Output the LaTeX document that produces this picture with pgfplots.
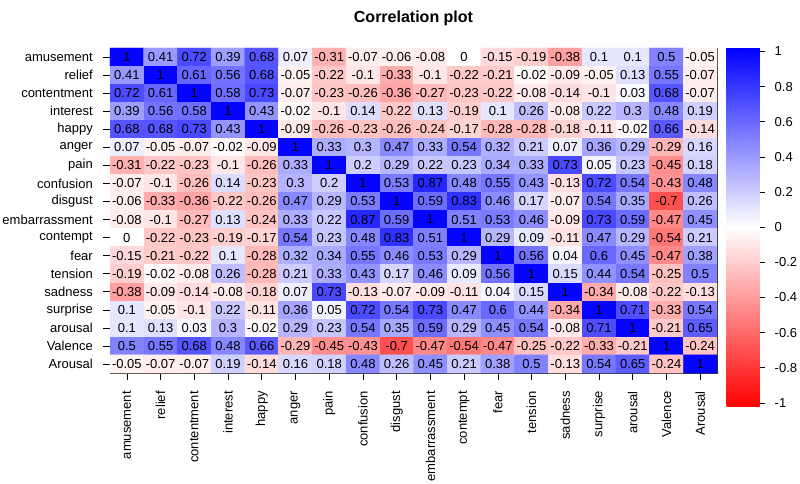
\documentclass[border=0pt]{standalone}
\usepackage{pgfplots}
\pgfplotsset{compat=1.18}
\usepackage{pgfplotstable}
\usepackage{fontspec}
\setmainfont{Liberation Sans}

% x = column (amusement=0 ... Arousal=17), y = 17 - row, c = correlation
\pgfplotstableread{
x y c
0 17 1
1 17 0.41
2 17 0.72
3 17 0.39
4 17 0.68
5 17 0.07
6 17 -0.31
7 17 -0.07
8 17 -0.06
9 17 -0.08
10 17 0
11 17 -0.15
12 17 -0.19
13 17 -0.38
14 17 0.1
15 17 0.1
16 17 0.5
17 17 -0.05
0 16 0.41
1 16 1
2 16 0.61
3 16 0.56
4 16 0.68
5 16 -0.05
6 16 -0.22
7 16 -0.1
8 16 -0.33
9 16 -0.1
10 16 -0.22
11 16 -0.21
12 16 -0.02
13 16 -0.09
14 16 -0.05
15 16 0.13
16 16 0.55
17 16 -0.07
0 15 0.72
1 15 0.61
2 15 1
3 15 0.58
4 15 0.73
5 15 -0.07
6 15 -0.23
7 15 -0.26
8 15 -0.36
9 15 -0.27
10 15 -0.23
11 15 -0.22
12 15 -0.08
13 15 -0.14
14 15 -0.1
15 15 0.03
16 15 0.68
17 15 -0.07
0 14 0.39
1 14 0.56
2 14 0.58
3 14 1
4 14 0.43
5 14 -0.02
6 14 -0.1
7 14 0.14
8 14 -0.22
9 14 0.13
10 14 -0.19
11 14 0.1
12 14 0.26
13 14 -0.08
14 14 0.22
15 14 0.3
16 14 0.48
17 14 0.19
0 13 0.68
1 13 0.68
2 13 0.73
3 13 0.43
4 13 1
5 13 -0.09
6 13 -0.26
7 13 -0.23
8 13 -0.26
9 13 -0.24
10 13 -0.17
11 13 -0.28
12 13 -0.28
13 13 -0.18
14 13 -0.11
15 13 -0.02
16 13 0.66
17 13 -0.14
0 12 0.07
1 12 -0.05
2 12 -0.07
3 12 -0.02
4 12 -0.09
5 12 1
6 12 0.33
7 12 0.3
8 12 0.47
9 12 0.33
10 12 0.54
11 12 0.32
12 12 0.21
13 12 0.07
14 12 0.36
15 12 0.29
16 12 -0.29
17 12 0.16
0 11 -0.31
1 11 -0.22
2 11 -0.23
3 11 -0.1
4 11 -0.26
5 11 0.33
6 11 1
7 11 0.2
8 11 0.29
9 11 0.22
10 11 0.23
11 11 0.34
12 11 0.33
13 11 0.73
14 11 0.05
15 11 0.23
16 11 -0.45
17 11 0.18
0 10 -0.07
1 10 -0.1
2 10 -0.26
3 10 0.14
4 10 -0.23
5 10 0.3
6 10 0.2
7 10 1
8 10 0.53
9 10 0.87
10 10 0.48
11 10 0.55
12 10 0.43
13 10 -0.13
14 10 0.72
15 10 0.54
16 10 -0.43
17 10 0.48
0 9 -0.06
1 9 -0.33
2 9 -0.36
3 9 -0.22
4 9 -0.26
5 9 0.47
6 9 0.29
7 9 0.53
8 9 1
9 9 0.59
10 9 0.83
11 9 0.46
12 9 0.17
13 9 -0.07
14 9 0.54
15 9 0.35
16 9 -0.7
17 9 0.26
0 8 -0.08
1 8 -0.1
2 8 -0.27
3 8 0.13
4 8 -0.24
5 8 0.33
6 8 0.22
7 8 0.87
8 8 0.59
9 8 1
10 8 0.51
11 8 0.53
12 8 0.46
13 8 -0.09
14 8 0.73
15 8 0.59
16 8 -0.47
17 8 0.45
0 7 0
1 7 -0.22
2 7 -0.23
3 7 -0.19
4 7 -0.17
5 7 0.54
6 7 0.23
7 7 0.48
8 7 0.83
9 7 0.51
10 7 1
11 7 0.29
12 7 0.09
13 7 -0.11
14 7 0.47
15 7 0.29
16 7 -0.54
17 7 0.21
0 6 -0.15
1 6 -0.21
2 6 -0.22
3 6 0.1
4 6 -0.28
5 6 0.32
6 6 0.34
7 6 0.55
8 6 0.46
9 6 0.53
10 6 0.29
11 6 1
12 6 0.56
13 6 0.04
14 6 0.6
15 6 0.45
16 6 -0.47
17 6 0.38
0 5 -0.19
1 5 -0.02
2 5 -0.08
3 5 0.26
4 5 -0.28
5 5 0.21
6 5 0.33
7 5 0.43
8 5 0.17
9 5 0.46
10 5 0.09
11 5 0.56
12 5 1
13 5 0.15
14 5 0.44
15 5 0.54
16 5 -0.25
17 5 0.5
0 4 -0.38
1 4 -0.09
2 4 -0.14
3 4 -0.08
4 4 -0.18
5 4 0.07
6 4 0.73
7 4 -0.13
8 4 -0.07
9 4 -0.09
10 4 -0.11
11 4 0.04
12 4 0.15
13 4 1
14 4 -0.34
15 4 -0.08
16 4 -0.22
17 4 -0.13
0 3 0.1
1 3 -0.05
2 3 -0.1
3 3 0.22
4 3 -0.11
5 3 0.36
6 3 0.05
7 3 0.72
8 3 0.54
9 3 0.73
10 3 0.47
11 3 0.6
12 3 0.44
13 3 -0.34
14 3 1
15 3 0.71
16 3 -0.33
17 3 0.54
0 2 0.1
1 2 0.13
2 2 0.03
3 2 0.3
4 2 -0.02
5 2 0.29
6 2 0.23
7 2 0.54
8 2 0.35
9 2 0.59
10 2 0.29
11 2 0.45
12 2 0.54
13 2 -0.08
14 2 0.71
15 2 1
16 2 -0.21
17 2 0.65
0 1 0.5
1 1 0.55
2 1 0.68
3 1 0.48
4 1 0.66
5 1 -0.29
6 1 -0.45
7 1 -0.43
8 1 -0.7
9 1 -0.47
10 1 -0.54
11 1 -0.47
12 1 -0.25
13 1 -0.22
14 1 -0.33
15 1 -0.21
16 1 1
17 1 -0.24
0 0 -0.05
1 0 -0.07
2 0 -0.07
3 0 0.19
4 0 -0.14
5 0 0.16
6 0 0.18
7 0 0.48
8 0 0.26
9 0 0.45
10 0 0.21
11 0 0.38
12 0 0.5
13 0 -0.13
14 0 0.54
15 0 0.65
16 0 -0.24
17 0 1
}\corr

\begin{document}
\begin{tikzpicture}
\useasboundingbox (-110pt,-111pt) rectangle (690pt,373pt);
\begin{axis}[
  at={(0,0)}, anchor=south west,
  scale only axis, width=607pt, height=325pt,
  xmin=-0.5, xmax=17.5, ymin=-0.5, ymax=17.5,
  xtick={0,...,17}, ytick={0,...,17},
  xticklabels={amusement,relief,contentment,interest,happy,anger,pain,confusion,disgust,embarrassment,contempt,fear,tension,sadness,surprise,arousal,Valence,Arousal},
  yticklabels={Arousal,Valence,arousal,surprise,sadness,tension,fear,contempt,embarrassment,disgust,confusion,pain,anger,happy,interest,contentment,relief,amusement},
  xtick pos=bottom, ytick pos=left,
  tick align=outside, major tick length=7pt,
  tick style={black, line width=0.6pt},
  xticklabel style={yshift=-11pt, rotate=90, anchor=east, inner sep=0pt, font=\fontsize{13}{13}\selectfont},
  yticklabel style={xshift=-10pt, anchor=east, inner sep=0pt, font=\fontsize{13}{13}\selectfont},
  axis line style={black!80, line width=0.8pt},
  colormap={rwb}{rgb255=(255,0,0) rgb255=(255,255,255) rgb255=(0,0,255)},
  point meta min=-1.02, point meta max=1.02,
  colorbar,
  colorbar/width=33pt,
  colorbar style={
    at={(parent axis.north east)}, anchor=north west, xshift=1pt,
    height=358.4pt,
    ytick={-1,-0.8,-0.6,-0.4,-0.2,0,0.2,0.4,0.6,0.8,1},
    yticklabels={-1,-0.8,-0.6,-0.4,-0.2,0,0.2,0.4,0.6,0.8,1},
    yticklabel style={font=\fontsize{13}{13}\selectfont, anchor=west, inner sep=0pt, xshift=10pt},
    ytick pos=right, tick align=outside, major tick length=5pt,
    tick style={black, line width=0.6pt},
    axis line style={draw=none},
  },
  title={Correlation plot},
  title style={font=\bfseries\fontsize{16}{16}\selectfont, at={(0.5,1)}, anchor=base, yshift=19.5pt},
]
\addplot[matrix plot*, mesh/cols=18, mesh/rows=18, point meta=explicit]
  table[x=x, y=y, meta=c]{\corr};
\addplot[only marks, mark=none, nodes near coords, point meta=explicit symbolic,
  nodes near coords style={anchor=center, inner sep=0pt, text=black, font=\fontsize{13}{13}\selectfont}]
  table[x=x, y=y, meta=c]{\corr};
\end{axis}
\end{tikzpicture}
\end{document}
